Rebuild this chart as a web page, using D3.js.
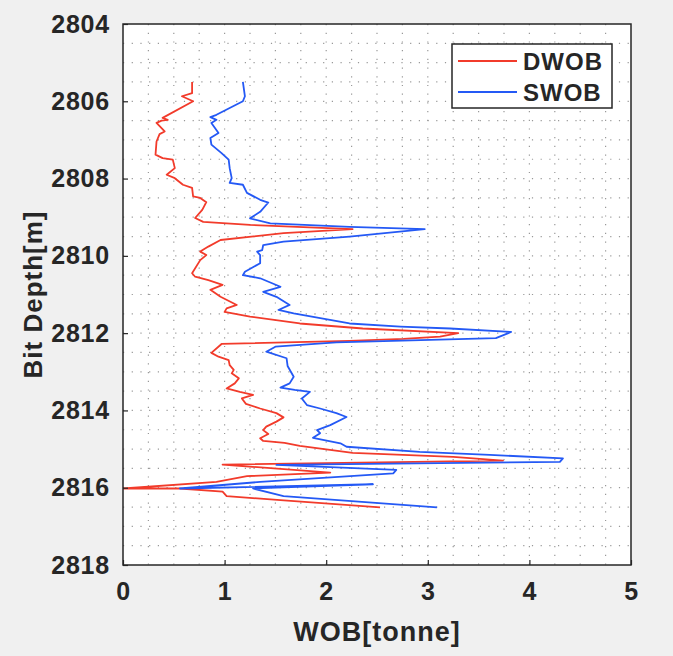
<!DOCTYPE html>
<html>
<head>
<meta charset="utf-8">
<script src="https://cdn.jsdelivr.net/npm/d3@7"></script>
<style>
  html, body { margin: 0; padding: 0; background: #f0f0f0; }
  svg { display: block; }
  text { font-family: "Liberation Sans", Arial, Helvetica, sans-serif; font-weight: bold; fill: #262626; }
</style>
</head>
<body>
<script>
// Weight on bit versus bit depth: downhole (DWOB) and surface (SWOB) measurements.
const dwobDepth = [2805.50, 2805.79, 2805.87, 2806.00, 2806.43, 2806.48, 2806.50, 2806.56, 2806.78, 2806.85,
  2807.04, 2807.38, 2807.47, 2807.51, 2807.73, 2807.90, 2807.99, 2808.16, 2808.24, 2808.46,
  2808.50, 2808.61, 2808.81, 2809.02, 2809.12, 2809.20, 2809.31, 2809.41, 2809.59, 2809.76,
  2809.89, 2809.98, 2810.11, 2810.45, 2810.54, 2810.63, 2810.75, 2810.88, 2811.06, 2811.27,
  2811.36, 2811.45, 2811.57, 2811.75, 2811.88, 2812.00, 2812.09, 2812.15, 2812.20, 2812.28,
  2812.51, 2812.61, 2812.70, 2812.83, 2812.95, 2813.04, 2813.17, 2813.30, 2813.43, 2813.52,
  2813.60, 2813.69, 2813.83, 2813.95, 2814.07, 2814.18, 2814.29, 2814.42, 2814.51, 2814.61,
  2814.72, 2814.79, 2814.84, 2814.92, 2815.10, 2815.20, 2815.30, 2815.40, 2815.61, 2815.70,
  2815.85, 2816.02, 2816.02, 2816.10, 2816.22, 2816.32, 2816.51];
const dwobValue = [0.68, 0.68, 0.58, 0.69, 0.39, 0.44, 0.38, 0.33, 0.41, 0.36,
  0.33, 0.32, 0.39, 0.49, 0.51, 0.43, 0.51, 0.59, 0.68, 0.69,
  0.76, 0.82, 0.78, 0.71, 0.79, 1.25, 2.26, 1.58, 0.96, 0.84,
  0.76, 0.82, 0.76, 0.68, 0.71, 0.84, 0.98, 0.86, 0.96, 1.12,
  1.02, 1.00, 1.25, 1.74, 2.36, 3.30, 3.12, 2.76, 2.23, 0.97,
  0.87, 0.94, 1.04, 1.05, 1.09, 1.07, 1.14, 1.10, 1.02, 1.15,
  1.28, 1.17, 1.21, 1.35, 1.51, 1.58, 1.51, 1.41, 1.38, 1.43,
  1.35, 1.38, 1.59, 1.74, 2.26, 3.25, 3.74, 0.98, 2.04, 1.22,
  0.92, 0.00, 0.56, 0.98, 1.02, 1.55, 2.53];

const swobDepth = [2805.50, 2805.87, 2806.00, 2806.35, 2806.41, 2806.48, 2806.56, 2806.82, 2806.95, 2807.12,
  2807.34, 2807.51, 2807.73, 2807.99, 2808.11, 2808.16, 2808.37, 2808.55, 2808.62, 2808.86,
  2809.03, 2809.16, 2809.25, 2809.31, 2809.50, 2809.63, 2809.72, 2809.85, 2809.89, 2809.98,
  2810.19, 2810.41, 2810.50, 2810.58, 2810.80, 2810.93, 2811.06, 2811.27, 2811.40, 2811.49,
  2811.75, 2811.83, 2811.88, 2811.97, 2812.13, 2812.24, 2812.35, 2812.48, 2812.65, 2812.85,
  2813.13, 2813.30, 2813.41, 2813.47, 2813.52, 2813.69, 2813.86, 2813.95, 2814.07, 2814.17,
  2814.38, 2814.51, 2814.59, 2814.71, 2814.85, 2814.94, 2815.07, 2815.15, 2815.24, 2815.33,
  2815.41, 2815.54, 2815.63, 2815.85, 2816.02, 2815.91, 2816.02, 2816.22, 2816.51];
const swobValue = [1.18, 1.20, 1.18, 0.92, 0.86, 0.92, 0.87, 0.94, 0.86, 0.87,
  0.97, 1.04, 1.05, 1.07, 1.05, 1.18, 1.22, 1.35, 1.43, 1.35,
  1.25, 1.45, 2.23, 2.97, 2.23, 1.58, 1.38, 1.37, 1.32, 1.35,
  1.35, 1.20, 1.18, 1.35, 1.55, 1.38, 1.51, 1.64, 1.53, 1.68,
  2.23, 2.73, 3.22, 3.82, 3.67, 2.10, 1.50, 1.41, 1.61, 1.62,
  1.68, 1.64, 1.55, 1.69, 1.84, 1.76, 1.81, 1.94, 2.10, 2.20,
  2.04, 1.91, 1.94, 1.87, 2.14, 2.20, 2.92, 3.61, 4.33, 4.30,
  1.51, 2.69, 2.66, 1.35, 0.56, 2.46, 1.28, 1.58, 3.09];

const seriesNames = ["DWOB", "SWOB"];
const seriesColors = ["#f23b2b", "#2459f5"];
const xTicks = [0, 1, 2, 3, 4, 5];
const yTicks = [2804, 2806, 2808, 2810, 2812, 2814, 2816, 2818];

const W = 673, H = 656;
const margin = { left: 123, right: 42, top: 24, bottom: 91 };
const pw = W - margin.left - margin.right;
const ph = H - margin.top - margin.bottom;

const svg = d3.select("body").append("svg").attr("width", W).attr("height", H);
svg.append("rect").attr("width", W).attr("height", H).attr("fill", "#f0f0f0");

const x = d3.scaleLinear().domain([0, 5]).range([0, pw]);
const y = d3.scaleLinear().domain([2804, 2818]).range([0, ph]);

const g = svg.append("g").attr("transform", `translate(${margin.left},${margin.top})`);
g.append("rect").attr("width", pw).attr("height", ph).attr("fill", "#ffffff");

// dotted minor grid
const grid = g.append("g").attr("stroke", "#999999").attr("stroke-width", 1.2)
  .attr("stroke-dasharray", "1.2,7.5").attr("fill", "none");
grid.selectAll("line.v").data(d3.range(1, 20).map(i => i * 0.25)).join("line")
  .attr("class", "v").attr("x1", d => x(d)).attr("x2", d => x(d)).attr("y1", 0).attr("y2", ph);
grid.selectAll("line.h").data(d3.range(1, 28).map(i => 2804 + i * 0.5)).join("line")
  .attr("class", "h").attr("x1", 0).attr("x2", pw).attr("y1", d => y(d)).attr("y2", d => y(d));

// curves
const clip = g.append("clipPath").attr("id", "plotClip");
clip.append("rect").attr("width", pw).attr("height", ph);
const line = d3.line().x(p => x(p[0])).y(p => y(p[1]));
const series = [
  dwobValue.map((v, i) => [v, dwobDepth[i]]),
  swobValue.map((v, i) => [v, swobDepth[i]])
];
series.forEach((pts, k) => {
  g.append("path").attr("d", line(pts)).attr("fill", "none")
    .attr("stroke", seriesColors[k]).attr("stroke-width", 1.8)
    .attr("stroke-linejoin", "round").attr("clip-path", "url(#plotClip)");
});

// axes
const xAxis = d3.axisBottom(x).tickValues(xTicks).tickFormat(d3.format("d"))
  .tickSize(-5).tickPadding(17);
const yAxis = d3.axisLeft(y).tickValues(yTicks).tickFormat(d3.format("d"))
  .tickSize(-5).tickPadding(13);
const gx = g.append("g").attr("transform", `translate(0,${ph})`).call(xAxis);
const gy = g.append("g").call(yAxis);
[gx, gy].forEach(a => {
  a.select(".domain").remove();
  a.selectAll(".tick line").attr("stroke", "#262626").attr("stroke-width", 1.2);
  a.selectAll(".tick text").attr("font-size", 25).attr("fill", "#262626")
    .style("letter-spacing", "0.8px")
    .style("font-family", "'Liberation Sans', Arial, sans-serif").style("font-weight", "bold");
});

// frame
g.append("rect").attr("width", pw).attr("height", ph).attr("fill", "none")
  .attr("stroke", "#262626").attr("stroke-width", 1.5);

// axis titles
svg.append("text").attr("x", margin.left + pw / 2).attr("y", 641)
  .attr("text-anchor", "middle").attr("font-size", 27).style("letter-spacing", "1px")
  .text("WOB[tonne]");
svg.append("text").attr("transform", `translate(42,${margin.top + ph / 2}) rotate(-90)`)
  .attr("text-anchor", "middle").attr("font-size", 26).style("letter-spacing", "1px")
  .text("Bit Depth[m]");

// legend
const lg = svg.append("g").attr("transform", "translate(452,44)");
lg.append("rect").attr("width", 160).attr("height", 64).attr("fill", "#ffffff")
  .attr("stroke", "#262626").attr("stroke-width", 1.5);
seriesNames.forEach((name, k) => {
  const ly = 17 + k * 31;
  lg.append("line").attr("x1", 6).attr("x2", 65).attr("y1", ly).attr("y2", ly)
    .attr("stroke", seriesColors[k]).attr("stroke-width", 1.8);
  lg.append("text").attr("x", 71).attr("y", ly).attr("dy", "0.36em")
    .attr("font-size", 24).style("letter-spacing", "1px").text(name);
});
</script>
</body>
</html>
